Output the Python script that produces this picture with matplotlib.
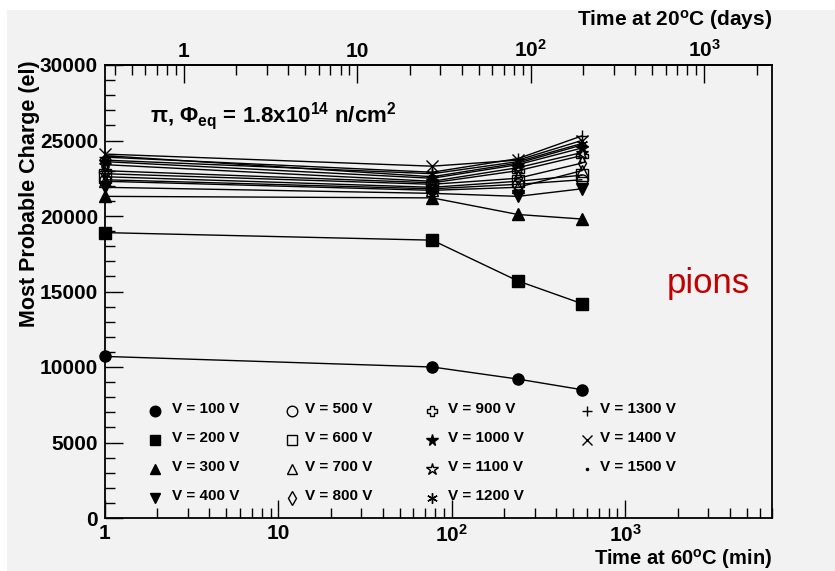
import numpy as np
import matplotlib
matplotlib.use('Agg')
import matplotlib.pyplot as plt
from matplotlib.ticker import LogLocator, FuncFormatter, MultipleLocator, NullFormatter, FixedLocator
from matplotlib.patches import Rectangle

plt.rcParams['font.family'] = ['Liberation Sans', 'DejaVu Sans']
plt.rcParams['font.weight'] = 'bold'
plt.rcParams['mathtext.fontset'] = 'custom'
plt.rcParams['mathtext.rm'] = 'Liberation Sans:bold'
plt.rcParams['mathtext.bf'] = 'Liberation Sans:bold'
plt.rcParams['mathtext.it'] = 'Liberation Sans:bold:italic'
plt.rcParams['mathtext.default'] = 'rm'

# ---------------- data ----------------
time_min = [1, 77, 240, 560]          # annealing time at 60 C (min)
voltages = [100, 200, 300, 400, 500, 600, 700, 800,
            900, 1000, 1100, 1200, 1300, 1400, 1500]

q_100 = [10700, 10000, 9200, 8500]
q_200 = [18900, 18400, 15700, 14200]
q_300 = [21300, 21200, 20100, 19800]
q_400 = [21900, 21500, 21300, 21800]
q_500 = [22400, 21800, 22100, 22400]
q_600 = [22600, 21900, 22300, 22700]
q_700 = [22300, 21700, 21900, 23000]
q_800 = [22800, 22100, 22500, 23500]
q_900 = [23000, 22200, 23000, 24000]
q_1000 = [23600, 22500, 23400, 24500]
q_1100 = [23400, 22300, 23200, 24200]
q_1200 = [23700, 22800, 23600, 24800]
q_1300 = [23900, 22900, 23800, 25300]
q_1400 = [24100, 23300, 23700, 25000]
q_1500 = [24000, 22600, 23500, 24700]

series = [q_100, q_200, q_300, q_400, q_500, q_600, q_700, q_800,
          q_900, q_1000, q_1100, q_1200, q_1300, q_1400, q_1500]

bottom_ticks = [1, 10, 100, 1000]
top_ticks = [1, 10, 100, 1000]
days_factor = 2.85   # minutes at 60C per day at 20C

# ---------------- styles ----------------
marker_styles = [
    dict(marker='o', mfc='black'),
    dict(marker='s', mfc='black'),
    dict(marker='^', mfc='black'),
    dict(marker='v', mfc='black'),
    dict(marker='o', mfc='none'),
    dict(marker='s', mfc='none'),
    dict(marker='^', mfc='none'),
    dict(marker='d', mfc='none', ms_scale=0.9),
    dict(marker='P', mfc='none'),
    dict(marker='*', mfc='black', ms_scale=1.1),
    dict(marker='*', mfc='none', ms_scale=1.2),
    dict(marker=(6, 2, 0), mfc='black'),
    dict(marker='+', mfc='black'),
    dict(marker='x', mfc='black'),
    dict(marker='.', mfc='black', ms_scale=0.4),
]

W, H = 835, 571
def fx(px): return px / W
def fy(py): return 1 - py / H

fig = plt.figure(figsize=(W / 100, H / 100), dpi=100)
fig.patch.set_facecolor('white')
fig.patches.append(Rectangle((fx(7), 0), 1, fy(10), transform=fig.transFigure,
                             facecolor='#f2f2f2', edgecolor='none', zorder=-10))

ax = fig.add_axes([fx(105), fy(518), fx(772) - fx(105), fy(65) - fy(518)])
ax.set_facecolor('#f2f2f2')
ax.set_xscale('log')
ax.set_xlim(1, 7000)
ax.set_ylim(0, 30000)

ms = 8
for v, q, st in zip(voltages, series, marker_styles):
    scale = st.get('ms_scale', 1.0)
    ax.plot(time_min, q, color='black', lw=1.0, marker=st['marker'],
            mfc=st['mfc'], mec='black', mew=1.0, ms=ms * scale, clip_on=False, zorder=3)

for sp in ax.spines.values():
    sp.set_linewidth(1.3)

def logfmt(v, _):
    e = int(round(np.log10(v)))
    if e == 0:
        return '1'
    if e == 1:
        return '10'
    return '10$^{%d}$' % e

ax.xaxis.set_major_locator(FixedLocator(bottom_ticks))
ax.xaxis.set_minor_locator(LogLocator(base=10, subs=np.arange(2, 10)))
ax.xaxis.set_major_formatter(FuncFormatter(logfmt))
ax.xaxis.set_minor_formatter(NullFormatter())
ax.yaxis.set_major_locator(MultipleLocator(5000))
ax.yaxis.set_minor_locator(MultipleLocator(1000))
ax.tick_params(axis='both', which='both', direction='in', top=False, right=False,
               width=1.0, labelsize=15)
ax.tick_params(axis='both', which='major', length=13)
ax.tick_params(axis='both', which='minor', length=7)
ax.tick_params(axis='x', pad=4)
ax.tick_params(axis='y', pad=5)

secax = ax.secondary_xaxis('top', functions=(lambda m: m / days_factor,
                                             lambda d: d * days_factor))
secax.xaxis.set_major_locator(FixedLocator(top_ticks))
secax.xaxis.set_minor_locator(LogLocator(base=10, subs=np.arange(2, 10)))
secax.xaxis.set_major_formatter(FuncFormatter(logfmt))
secax.xaxis.set_minor_formatter(NullFormatter())
secax.tick_params(axis='x', which='both', direction='in', width=1.0, labelsize=15, pad=3)
secax.tick_params(axis='x', which='major', length=13)
secax.tick_params(axis='x', which='minor', length=7)
secax.spines['top'].set_linewidth(1.3)

# axis titles
fig.text(fx(772), fy(559), 'Time at 60$^{o}$C (min)', ha='right', va='center',
         fontsize=14.5, fontweight='bold')
fig.text(fx(772), fy(20), 'Time at 20$^{o}$C (days)', ha='right', va='center',
         fontsize=15, fontweight='bold')
fig.text(fx(30), fy(60), 'Most Probable Charge (el)', rotation=90, ha='center',
         va='top', fontsize=15.5, fontweight='bold')

# annotation
fig.text(fx(150), fy(122), 'π, Φ$_{eq}$ = 1.8x10$^{14}$ n/cm$^{2}$', ha='left',
         va='baseline', fontsize=16, fontweight='bold')
fig.text(fx(708), fy(284), 'pions', ha='center', va='center', fontsize=25,
         fontweight='normal', color='#c00000')

# legend (4 columns, filled column by column)
col_marker_x = [155, 292, 432, 587]
col_text_x = [172, 305, 448, 600]
row_y = [409, 438, 467, 496]
for i, (v, st) in enumerate(zip(voltages, marker_styles)):
    c, r = i // 4, i % 4
    scale = st.get('ms_scale', 1.0)
    ax.plot([fx(col_marker_x[c])], [fy(row_y[r] + 2)], transform=fig.transFigure,
            linestyle='none', marker=st['marker'], mfc=st['mfc'], mec='black',
            mew=1.0, ms=ms * 0.95 * scale, clip_on=False, zorder=4)
    fig.text(fx(col_text_x[c]), fy(row_y[r]), f'V = {v} V', ha='left', va='center',
             fontsize=11, fontweight='bold')

fig.savefig('out.png', dpi=100, facecolor=fig.get_facecolor())
